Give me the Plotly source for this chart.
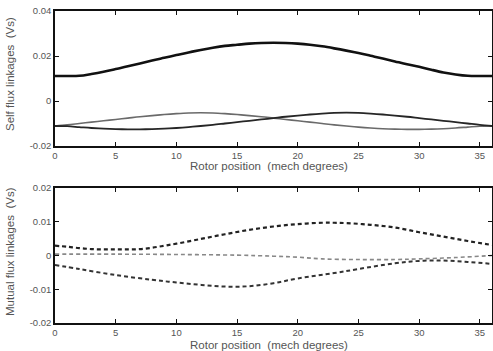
import plotly.graph_objects as go

# ---- data ----
pos_self = list(range(0, 37))
self_a = [0.0111, 0.0111, 0.0112, 0.0120, 0.0130, 0.0142, 0.0154, 0.0167, 0.0180, 0.0192,
          0.0204, 0.0216, 0.0227, 0.0237, 0.0245, 0.0250, 0.0255, 0.0258, 0.0259, 0.0258,
          0.0255, 0.0250, 0.0243, 0.0234, 0.0224, 0.0213, 0.0201, 0.0189, 0.0176, 0.0163,
          0.0152, 0.0139, 0.0127, 0.0118, 0.0112, 0.0111, 0.0111]
self_b = [-0.0111, -0.0106, -0.0100, -0.0094, -0.0088, -0.0082, -0.0076, -0.0070, -0.0065, -0.0060,
          -0.0056, -0.0053, -0.0052, -0.0053, -0.0056, -0.0060, -0.0065, -0.0070, -0.0076, -0.0082,
          -0.0088, -0.0094, -0.0100, -0.0106, -0.0111, -0.0116, -0.0120, -0.0123, -0.0125, -0.0126,
          -0.0126, -0.0125, -0.0123, -0.0120, -0.0116, -0.0112, -0.0111]
self_c = list(reversed(self_b))

pos_mut_d = [0, 1, 2, 3, 4, 5, 6, 7, 8, 9, 10, 12, 14, 16, 18, 20, 22, 23, 24, 26, 28, 30, 32, 34, 36]
mut_d = [0.0029, 0.0026, 0.0022, 0.0019, 0.0018, 0.0018, 0.0018, 0.0019, 0.0023, 0.0029, 0.0035,
         0.0049, 0.0063, 0.0076, 0.0086, 0.0093, 0.0097, 0.0097, 0.0096, 0.0091, 0.0083, 0.0069,
         0.0056, 0.0043, 0.0031]
pos_mut_e = [0, 2, 5, 8, 10, 12, 14, 16, 18, 20, 23, 25, 28, 30, 32, 34, 36]
mut_e = [-0.0028, -0.0040, -0.0058, -0.0072, -0.0080, -0.0087, -0.0092, -0.0091, -0.0082, -0.0068,
         -0.0052, -0.0040, -0.0023, -0.0016, -0.0015, -0.0019, -0.0025]
pos_mut_f = [0, 5, 10, 15, 18, 20, 22, 25, 28, 30, 33, 36]
mut_f = [0.0004, 0.0004, 0.0003, 0.0001, -0.0002, -0.0005, -0.0010, -0.0012, -0.0012, -0.0010,
         -0.0006, 0.0000]

x_ticks = [0, 5, 10, 15, 20, 25, 30, 35]
self_ticks = [-0.02, 0, 0.02, 0.04]
self_ticktext = ["-0.02", "0", "0.02", "0.04"]
mut_ticks = [-0.02, -0.01, 0, 0.01, 0.02]
mut_ticktext = ["-0.02", "-0.01", "0", "0.01", "0.02"]

H = 351.0
fig = go.Figure()

fig.add_trace(go.Scatter(x=pos_self, y=self_a, mode="lines", line=dict(color="#111", width=2.6, shape="spline"), xaxis="x", yaxis="y"))
fig.add_trace(go.Scatter(x=pos_self, y=self_b, mode="lines", line=dict(color="#6a6a6a", width=1.6, shape="spline"), xaxis="x", yaxis="y"))
fig.add_trace(go.Scatter(x=pos_self, y=self_c, mode="lines", line=dict(color="#262626", width=1.8, shape="spline"), xaxis="x", yaxis="y"))

fig.add_trace(go.Scatter(x=pos_mut_d, y=mut_d, mode="lines", line=dict(color="#222", width=2.2, dash="4px,3px", shape="spline"), xaxis="x2", yaxis="y2"))
fig.add_trace(go.Scatter(x=pos_mut_f, y=mut_f, mode="lines", line=dict(color="#888", width=1.6, dash="4px,3px", shape="spline"), xaxis="x2", yaxis="y2"))
fig.add_trace(go.Scatter(x=pos_mut_e, y=mut_e, mode="lines", line=dict(color="#333", width=2.0, dash="4px,3px", shape="spline"), xaxis="x2", yaxis="y2"))

axis_common = dict(showline=True, linecolor="#111", linewidth=1.5, mirror="ticks",
                   ticks="inside", ticklen=4, tickwidth=1.3, tickcolor="#111",
                   showgrid=False, zeroline=False, automargin=False,
                   tickfont=dict(family="Liberation Sans, Arial, sans-serif", size=9.5, color="#555"))

top_dom = [(H - 146) / H, (H - 11) / H]
bot_dom = [(H - 323) / H, (H - 188) / H]

fig.update_layout(
    width=493, height=351,
    margin=dict(l=55, r=1, t=0, b=0, autoexpand=False),
    paper_bgcolor="white", plot_bgcolor="white",
    showlegend=False,
    xaxis=dict(domain=[0, 1], range=[0, 36], tickvals=x_ticks, anchor="y", **axis_common),
    yaxis=dict(domain=top_dom, range=[-0.02, 0.04], tickvals=self_ticks, ticktext=self_ticktext, anchor="x", **axis_common),
    xaxis2=dict(domain=[0, 1], range=[0, 36], tickvals=x_ticks, anchor="y2", **axis_common),
    yaxis2=dict(domain=bot_dom, range=[-0.02, 0.02], tickvals=mut_ticks, ticktext=mut_ticktext, anchor="x2", **axis_common),
)

title_font = dict(family="Liberation Sans, Arial, sans-serif", size=11.5, color="#555")
fig.add_annotation(text="Rotor position  (mech degrees)", xref="paper", yref="paper",
                   x=0.49, y=(H - 166) / H, xanchor="center", yanchor="middle", showarrow=False, font=title_font)
fig.add_annotation(text="Rotor position  (mech degrees)", xref="paper", yref="paper",
                   x=0.49, y=(H - 344.5) / H, xanchor="center", yanchor="middle", showarrow=False, font=title_font)
fig.add_annotation(text="Self flux linkages  (Vs)", xref="paper", yref="paper",
                   x=-45 / 437.0, xanchor="center", y=(H - 74) / H, yanchor="middle", showarrow=False, textangle=-90, font=title_font)
fig.add_annotation(text="Mutual flux linkages  (Vs)", xref="paper", yref="paper",
                   x=-45 / 437.0, xanchor="center", y=(H - 252) / H, yanchor="middle", showarrow=False, textangle=-90, font=title_font)

fig.write_html("out.html")
